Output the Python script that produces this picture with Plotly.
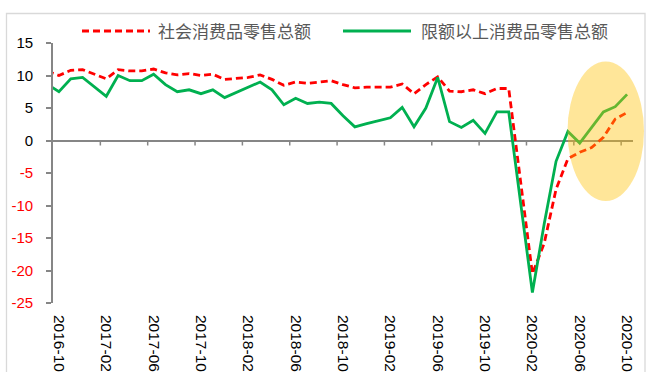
import plotly.graph_objects as go

# Monthly year-on-year growth (%), Jan figures are reported jointly with Feb
months = [
    "2016-09", "2016-10", "2016-11", "2016-12",
    "2017-01", "2017-02", "2017-03", "2017-04", "2017-05", "2017-06",
    "2017-07", "2017-08", "2017-09", "2017-10", "2017-11", "2017-12",
    "2018-01", "2018-02", "2018-03", "2018-04", "2018-05", "2018-06",
    "2018-07", "2018-08", "2018-09", "2018-10", "2018-11", "2018-12",
    "2019-01", "2019-02", "2019-03", "2019-04", "2019-05", "2019-06",
    "2019-07", "2019-08", "2019-09", "2019-10", "2019-11", "2019-12",
    "2020-01", "2020-02", "2020-03", "2020-04", "2020-05", "2020-06",
    "2020-07", "2020-08", "2020-09", "2020-10",
]

retail_total = [
    10.7, 10.0, 10.8, 10.9,
    None, 9.5, 10.9, 10.7, 10.7, 11.0,
    10.4, 10.1, 10.3, 10.0, 10.2, 9.4,
    None, 9.7, 10.1, 9.4, 8.5, 9.0,
    8.8, 9.0, 9.2, 8.6, 8.1, 8.2,
    None, 8.2, 8.7, 7.2, 8.6, 9.8,
    7.6, 7.5, 7.8, 7.2, 8.0, 8.0,
    None, -20.5, -15.8, -7.5, -2.8, -1.8,
    -1.1, 0.5, 3.3, 4.3,
]

retail_above_quota = [
    8.7, 7.5, 9.5, 9.7,
    None, 6.8, 10.0, 9.2, 9.2, 10.2,
    8.6, 7.5, 7.8, 7.2, 7.8, 6.6,
    None, 8.2, 9.0, 7.8, 5.5, 6.5,
    5.7, 5.9, 5.7, 3.8, 2.1, 2.6,
    None, 3.5, 5.1, 2.1, 5.0, 9.7,
    2.9, 2.0, 3.1, 1.1, 4.4, 4.4,
    None, -23.4, -12.8, -3.2, 1.4, -0.4,
    2.0, 4.4, 5.2, 7.1,
]

series_names = ["社会消费品零售总额", "限额以上消费品零售总额"]

x_tick_labels = [
    "2016-10", "2017-02", "2017-06", "2017-10", "2018-02", "2018-06",
    "2018-10", "2019-02", "2019-06", "2019-10", "2020-02", "2020-06", "2020-10",
]

y_ticks = [-25, -20, -15, -10, -5, 0, 5, 10, 15]

# Canvas / plot-area geometry (pixels)
W, H = 646, 372
ML, MR, MT, MB = 53, 13, 43, 69
PW, PH = W - ML - MR, H - MT - MB

RED = "#FF0000"
GREEN = "#00B050"
AXIS_GRAY = "#868686"
TEXT_GRAY = "#595959"
NUM_FONT = "Liberation Sans, Arial, sans-serif"
CJK_FONT = "Noto Sans CJK SC, sans-serif"


def px_x(px):
    return (px - ML) / PW


def px_y(py):
    return (H - MB - py) / PH


fig = go.Figure()

fig.add_trace(go.Scatter(
    x=months, y=retail_total, name=series_names[0], mode="lines",
    connectgaps=True, showlegend=False,
    line=dict(color=RED, width=2.8, dash="7px,4px"),
))
fig.add_trace(go.Scatter(
    x=months, y=retail_above_quota, name=series_names[1], mode="lines",
    connectgaps=True, showlegend=False,
    line=dict(color=GREEN, width=2.8),
))

shapes = []

# Category-boundary tick marks hanging below the zero line
first_idx = months.index(x_tick_labels[0])
for lab in x_tick_labels[1:]:
    b = months.index(lab) - 0.5
    shapes.append(dict(
        type="line", xref="x", yref="y", ysizemode="pixel", yanchor=0,
        x0=b, x1=b, y0=0, y1=-5,
        line=dict(color=AXIS_GRAY, width=1.5), layer="below",
    ))

# Highlight over the recent recovery
shapes.append(dict(
    type="circle", xref="paper", yref="paper",
    x0=px_x(567.5), x1=px_x(644), y0=px_y(201), y1=px_y(61.5),
    fillcolor="#FFC000", opacity=0.4, line=dict(width=0), layer="above",
))

# Chart frame
shapes.append(dict(
    type="rect", xref="paper", yref="paper",
    x0=px_x(6.5), x1=px_x(645), y0=px_y(400), y1=px_y(13.5),
    line=dict(color="#D9D9D9", width=1.3), fillcolor="rgba(0,0,0,0)",
    layer="below",
))

# Legend samples
legend_y = px_y(31)
shapes.append(dict(
    type="line", xref="paper", yref="paper",
    x0=px_x(82), x1=px_x(150), y0=legend_y, y1=legend_y,
    line=dict(color=RED, width=2.8, dash="7px,4px"),
))
shapes.append(dict(
    type="line", xref="paper", yref="paper",
    x0=px_x(343), x1=px_x(411), y0=legend_y, y1=legend_y,
    line=dict(color=GREEN, width=2.8),
))

annotations = [
    dict(text=series_names[0], xref="paper", yref="paper",
         x=px_x(156), y=legend_y, xanchor="left", yanchor="middle",
         showarrow=False, font=dict(family=CJK_FONT, size=17, color=TEXT_GRAY)),
    dict(text=series_names[1], xref="paper", yref="paper",
         x=px_x(419), y=legend_y, xanchor="left", yanchor="middle",
         showarrow=False, font=dict(family=CJK_FONT, size=17, color=TEXT_GRAY)),
]

y_tick_text = [
    f'<span style="color:{RED}">{v}</span>' if v < 0 else str(v)
    for v in y_ticks
]

fig.update_layout(
    width=W, height=H,
    margin=dict(l=ML, r=MR, t=MT, b=MB, pad=0, autoexpand=False),
    paper_bgcolor="white", plot_bgcolor="white",
    shapes=shapes, annotations=annotations,
    showlegend=False,
    xaxis=dict(
        type="category", categoryorder="array", categoryarray=months,
        range=[first_idx - 0.5, len(months) - 0.5],
        tickmode="array", tickvals=x_tick_labels, ticktext=x_tick_labels,
        tickangle=90, ticks="", showline=False, showgrid=False, zeroline=False,
        automargin=False, ticklabelstandoff=11,
        tickfont=dict(family=NUM_FONT, size=15.5, color="black"),
    ),
    yaxis=dict(
        range=[-25, 15], tickmode="array", tickvals=y_ticks, ticktext=y_tick_text,
        showgrid=False, showline=True, linecolor=AXIS_GRAY, linewidth=1.8,
        ticks="outside", ticklen=5, tickwidth=1.5, tickcolor=AXIS_GRAY,
        zeroline=True, zerolinecolor=AXIS_GRAY, zerolinewidth=2,
        automargin=False, ticklabelstandoff=10,
        tickfont=dict(family=NUM_FONT, size=15, color="black"),
    ),
)

fig.write_html("out.html")
